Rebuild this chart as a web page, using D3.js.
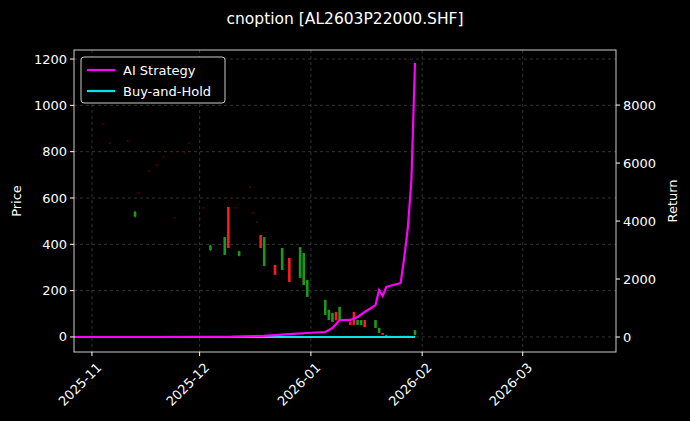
<!DOCTYPE html>
<html><head><meta charset="utf-8">
<script src="https://cdn.jsdelivr.net/npm/d3@7"></script>
<style>body{margin:0;background:#000}svg{font-family:"DejaVu Sans",sans-serif}</style>
</head><body><div id="chart"></div>
<script>
// candles: date, open, close, high, low
const candles = [
  ["2025-11-04",919,919,919,919],["2025-11-06",837,837,837,837],["2025-11-11",846,846,846,846],
  ["2025-11-13",540,520,545,515],["2025-11-14",622,622,622,622],["2025-11-17",716,716,716,716],
  ["2025-11-19",742,742,742,742],["2025-11-21",777,777,777,777],["2025-11-24",514,514,514,514],
  ["2025-11-27",794,794,794,794],["2025-11-28",837,837,837,837],["2025-12-01",514,514,514,514],
  ["2025-12-02",557,557,557,557],["2025-12-04",395,375,398,372],["2025-12-08",431,354,431,354],
  ["2025-12-09",384,561,561,384],["2025-12-10",600,600,600,600],["2025-12-11",557,557,557,557],
  ["2025-12-12",370,350,372,348],["2025-12-15",647,647,647,647],["2025-12-16",535,535,535,535],
  ["2025-12-17",496,496,496,496],["2025-12-18",384,440,440,384],["2025-12-19",431,306,431,306],
  ["2025-12-22",268,311,311,268],["2025-12-24",384,289,384,289],["2025-12-26",237,341,341,237],
  ["2025-12-29",388,255,388,255],["2025-12-30",362,224,362,224],["2025-12-31",246,173,246,173],
  ["2026-01-05",160,95,160,95],["2026-01-06",117,73,117,73],["2026-01-07",104,65,104,65],
  ["2026-01-08",72,108,108,72],["2026-01-09",130,73,130,73],["2026-01-12",52,65,65,52],
  ["2026-01-13",52,108,108,52],["2026-01-14",73,52,73,52],["2026-01-15",73,52,73,52],
  ["2026-01-16",43,73,73,43],["2026-01-19",73,39,73,39],["2026-01-20",39,17,39,17],
  ["2026-01-21",9,17,17,9],["2026-01-22",9,4,9,4],["2026-01-23",5,2,5,2],
  ["2026-01-26",5,2,5,2],["2026-01-27",5,2,5,2],["2026-01-28",5,2,5,2],["2026-01-30",30,8,30,8]
];
// strategy and buy-and-hold returns
const retDates = ["2025-10-27","2025-11-20","2025-12-10","2025-12-19","2025-12-26","2025-12-31","2026-01-05","2026-01-07","2026-01-09","2026-01-12","2026-01-14","2026-01-16","2026-01-19","2026-01-20","2026-01-21","2026-01-22","2026-01-26","2026-01-27","2026-01-28","2026-01-29","2026-01-30"];
const aiReturn = [0,0,10,40,100,138,172,310,586,590,690,862,1100,1620,1415,1725,1863,2725,3760,5400,9450];
const bhReturn = retDates.map(() => 0);
const xTicks = ["2025-11-01","2025-12-01","2026-01-01","2026-02-01","2026-03-01"];
const yLeftTicks = [0,200,400,600,800,1000,1200];
const yRightTicks = [0,2000,4000,6000,8000];

const W = 690, H = 421, m = {l:74, r:616, t:50, b:352};
const p = d3.timeParse("%Y-%m-%d");
const svg = d3.select("#chart").append("svg").attr("width", W).attr("height", H);
svg.append("rect").attr("width", W).attr("height", H).attr("fill", "#000");

const x = d3.scaleTime().domain([p("2025-10-27"), p("2026-03-27")]).range([m.l, m.r]);
const y = d3.scaleLinear().domain([-65, 1239]).range([m.b, m.t]);
const y2 = d3.scaleLinear().domain([-517, 9900]).range([m.b, m.t]);

// grid
const g = svg.append("g").attr("stroke", "#555").attr("stroke-dasharray", "3,3").attr("stroke-width", 0.6);
xTicks.forEach(d => g.append("line").attr("x1", x(p(d))).attr("x2", x(p(d))).attr("y1", m.t).attr("y2", m.b));
yLeftTicks.forEach(d => g.append("line").attr("x1", m.l).attr("x2", m.r).attr("y1", y(d)).attr("y2", y(d)));

// candles
const cg = svg.append("g");
candles.forEach(([d,o,c,h,l]) => {
  const cx = x(p(d));
  if (o === c && h === l) {
    cg.append("rect").attr("x", cx - 1).attr("y", y(o) - 0.6).attr("width", 2).attr("height", 1.2).attr("fill", "#6a0000");
    return;
  }
  const col = c > o ? "#ff1a1a" : "#1a9a1a";
  cg.append("line").attr("x1", cx).attr("x2", cx).attr("y1", y(h)).attr("y2", y(l)).attr("stroke", col).attr("stroke-width", 1);
  cg.append("rect").attr("x", cx - 1.3).attr("y", y(Math.max(o,c))).attr("width", 2.6)
    .attr("height", Math.max(1, Math.abs(y(o) - y(c)))).attr("fill", col);
});

// lines
const line = arr => d3.line().x((d,i) => x(p(retDates[i]))).y(d => y2(d))(arr);
svg.append("path").attr("d", line(bhReturn)).attr("fill", "none").attr("stroke", "#00e5ee").attr("stroke-width", 2.2);
svg.append("path").attr("d", line(aiReturn)).attr("fill", "none").attr("stroke", "#ff00ff").attr("stroke-width", 2.2);

// frame
svg.append("rect").attr("x", m.l).attr("y", m.t).attr("width", m.r - m.l).attr("height", m.b - m.t)
  .attr("fill", "none").attr("stroke", "#fff").attr("stroke-width", 0.8);

// axes
const ax = svg.append("g").attr("fill", "#fff").attr("font-size", 13);
yLeftTicks.forEach(d => {
  ax.append("line").attr("x1", m.l - 4).attr("x2", m.l).attr("y1", y(d)).attr("y2", y(d)).attr("stroke", "#fff");
  ax.append("text").attr("x", m.l - 7).attr("y", y(d)).attr("dy", "0.35em").attr("text-anchor", "end").text(d);
});
yRightTicks.forEach(d => {
  ax.append("line").attr("x1", m.r).attr("x2", m.r + 4).attr("y1", y2(d)).attr("y2", y2(d)).attr("stroke", "#fff");
  ax.append("text").attr("x", m.r + 7).attr("y", y2(d)).attr("dy", "0.35em").text(d);
});
xTicks.forEach(d => {
  const tx = x(p(d));
  ax.append("line").attr("x1", tx).attr("x2", tx).attr("y1", m.b).attr("y2", m.b + 4).attr("stroke", "#fff");
  ax.append("text").attr("transform", `translate(${tx + 4},${m.b + 10}) rotate(-45)`).attr("text-anchor", "end")
    .attr("dy", "0.7em").text(d.slice(0, 7));
});
ax.append("text").attr("transform", `translate(21,${(m.t+m.b)/2}) rotate(-90)`).attr("text-anchor", "middle").text("Price");
ax.append("text").attr("transform", `translate(677,${(m.t+m.b)/2}) rotate(-90)`).attr("text-anchor", "middle").text("Return");
ax.append("text").attr("x", 345).attr("y", 24).attr("text-anchor", "middle").attr("font-size", 15.5).text("cnoption [AL2603P22000.SHF]");

// legend
const lg = svg.append("g").attr("transform", "translate(81,57)");
lg.append("rect").attr("width", 144).attr("height", 46).attr("rx", 3).attr("fill", "#000").attr("stroke", "#ccc");
[["AI Strategy","#ff00ff"],["Buy-and-Hold","#00e5ee"]].forEach(([t,c],i) => {
  lg.append("line").attr("x1", 6).attr("x2", 34).attr("y1", 13 + i*21).attr("y2", 13 + i*21).attr("stroke", c).attr("stroke-width", 2.2);
  lg.append("text").attr("x", 42).attr("y", 13 + i*21).attr("dy", "0.35em").attr("fill", "#fff").attr("font-size", 13).text(t);
});
</script></body></html>
